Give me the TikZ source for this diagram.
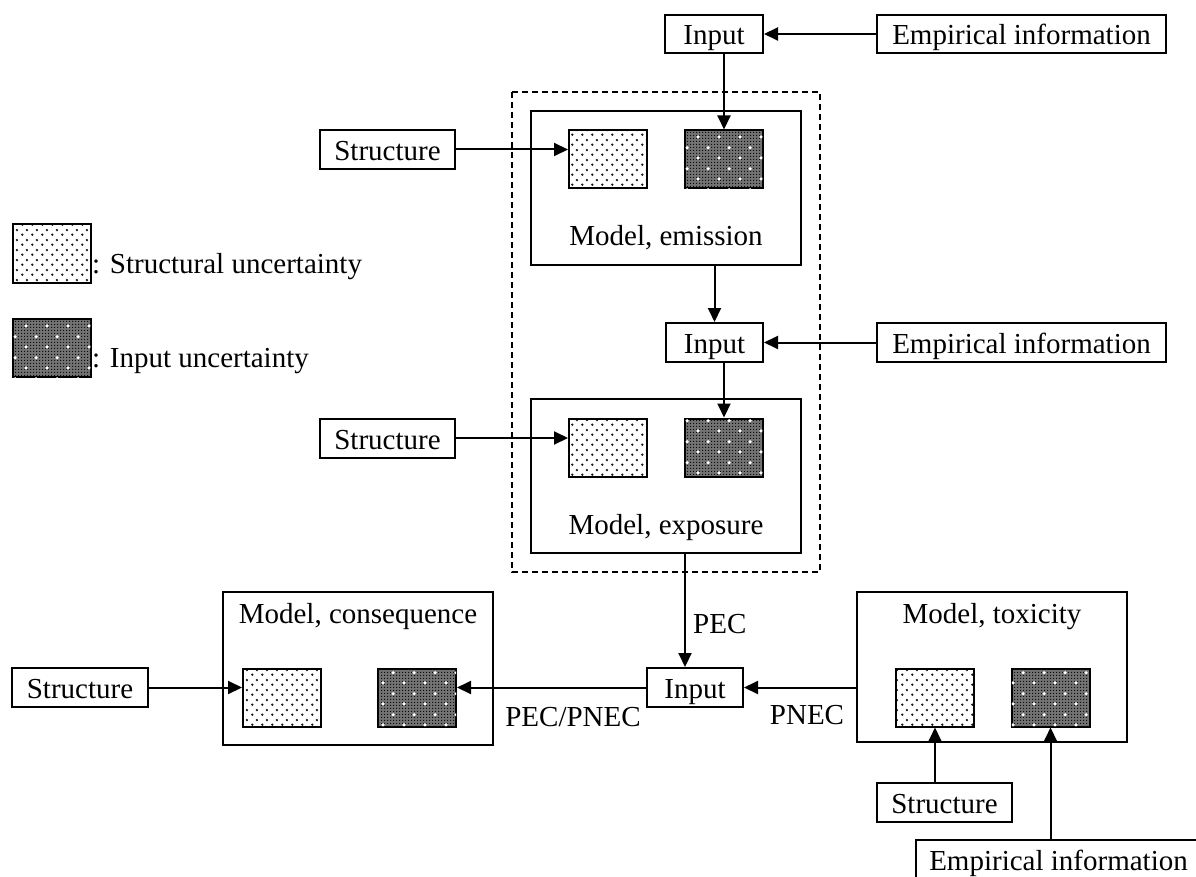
\documentclass[tikz,border=0pt]{standalone}
\usepackage{fontspec}
\setmainfont{Liberation Serif}
\usetikzlibrary{arrows.meta,patterns}
\pgfdeclarepatternformonly{sdots}{\pgfpointorigin}{\pgfpoint{10pt}{10pt}}{\pgfpoint{10pt}{10pt}}{%
  \pgfpathcircle{\pgfpoint{2.5pt}{2.5pt}}{1.4pt}%
  \pgfpathcircle{\pgfpoint{7.5pt}{7.5pt}}{1.4pt}%
  \pgfusepath{fill}}
\pgfdeclarepatternformonly{wdots}{\pgfpointorigin}{\pgfpoint{21pt}{21pt}}{\pgfpoint{21pt}{21pt}}{%
  \pgfpathcircle{\pgfpoint{5.25pt}{5.25pt}}{1.8pt}%
  \pgfpathcircle{\pgfpoint{15.75pt}{15.75pt}}{1.8pt}%
  \pgfusepath{fill}}
\pgfdeclarepatternformonly{fgrid}{\pgfpointorigin}{\pgfpoint{3pt}{3pt}}{\pgfpoint{3pt}{3pt}}{%
  \pgfpathrectangle{\pgfpointorigin}{\pgfpoint{1.5pt}{1.5pt}}%
  \pgfusepath{fill}}
\tikzset{
  txt/.style={font=\fontsize{29}{34}\selectfont},
  box/.style={draw, line width=2pt, inner sep=0pt, txt, text height=24pt, text depth=2pt},
  sunc/.style={draw, line width=2pt, fill=white, pattern=sdots, pattern color=black!90, inner sep=0pt, minimum width=78pt, minimum height=58pt},
  iunc/.style={draw, line width=2pt, fill=black!55, postaction={pattern=fgrid, pattern color=black!95}, postaction={pattern=wdots, pattern color=white}, inner sep=0pt, minimum width=78pt, minimum height=58pt},
  arr/.style={line width=2pt, -{Triangle[length=14pt,width=13pt]}},
  lbl/.style={txt, anchor=base, inner sep=0pt}
}
\begin{document}
\begin{tikzpicture}[x=1pt,y=-1pt]
\useasboundingbox (0,0) rectangle (1196,877);
% dashed frame
\draw[line width=1.8pt, dash pattern=on 6pt off 4pt] (512,92) rectangle (820,572);
% top input
\node[box, minimum width=98pt, minimum height=38pt] (inTop) at (714,34) {Input};
\node[box, minimum width=289pt, minimum height=38pt] (empTop) at (1021.5,34) {Empirical information};
% emission model
\node[box, minimum width=270pt, minimum height=154pt] (emis) at (666,188) {};
\node[lbl] (emisL) at (666,246) {Model, emission};
\node[sunc] (sE1) at (608,159.5) {};
\node[iunc] (iE1) at (724,159.5) {};
\node[box, minimum width=135pt, minimum height=39pt] (strTop) at (387.5,149.5) {Structure};
% middle input
\node[box, minimum width=97pt, minimum height=39pt] (inMid) at (714.5,342.5) {Input};
\node[box, minimum width=289pt, minimum height=39pt] (empMid) at (1021.5,342.5) {Empirical information};
% exposure model
\node[box, minimum width=270pt, minimum height=154pt] (expo) at (666,476) {};
\node[lbl] (expoL) at (666,534) {Model, exposure};
\node[sunc] (sE2) at (608,447.5) {};
\node[iunc] (iE2) at (724,447.5) {};
\node[box, minimum width=135pt, minimum height=39pt] (strMid) at (387.5,438) {Structure};
% bottom input
\node[box, minimum width=96pt, minimum height=39pt] (inBot) at (695,687.5) {Input};
\coordinate (pecx) at (685,0);
% consequence model
\node[box, minimum width=270pt, minimum height=153pt] (cons) at (358,668.5) {};
\node[lbl] (consL) at (358,623) {Model, consequence};
\node[sunc] (sC) at (282,697.5) {};
\node[iunc] (iC) at (417,697.5) {};
\node[box, minimum width=136pt, minimum height=39pt] (strL) at (80,687.5) {Structure};
% toxicity model
\node[box, minimum width=270pt, minimum height=150pt] (tox) at (992,667) {};
\node[lbl] (toxL) at (992,623) {Model, toxicity};
\node[sunc] (sT) at (935,697.5) {};
\node[iunc] (iT) at (1050.5,697.5) {};
\node[box, minimum width=135pt, minimum height=39pt] (strB) at (944.5,802.5) {Structure};
\node[box, minimum width=285pt, minimum height=39pt] (empB) at (1058.5,859.5) {Empirical information};
% labels
\node[lbl, anchor=base west] (pecL) at (693,633) {PEC};
\node[lbl] (pecpnecL) at (573,726) {PEC/PNEC};
\node[lbl] (pnecL) at (807,724) {PNEC};
% legend
\node[sunc] (lg1) at (52,253.5) {};
\node[lbl, anchor=base west] (lg1t) at (lg1.east |- 0,273) {: Structural uncertainty};
\node[iunc] (lg2) at (52,348) {};
\node[lbl, anchor=base west] (lg2t) at (lg2.east |- 0,367) {: Input uncertainty};
% connectors
\draw[arr] (empTop.west) -- (inTop.east);
\draw[arr] (inTop.south -| iE1.north) -- (iE1.north);
\draw[arr] (strTop.east) -- (strTop.east -| sE1.west);
\draw[arr] (emis.south -| inMid.north) -- (inMid.north);
\draw[arr] (empMid.west) -- (inMid.east);
\draw[arr] (inMid.south -| iE2.north) -- (iE2.north);
\draw[arr] (strMid.east) -- (strMid.east -| sE2.west);
\draw[arr] (expo.south -| pecx) -- (inBot.north -| pecx);
\draw[arr] (inBot.west) -- (inBot.west -| iC.east);
\draw[arr] (strL.east) -- (strL.east -| sC.west);
\draw[arr] (tox.west |- inBot.east) -- (inBot.east);
\draw[arr] (strB.north -| sT.south) -- (sT.south);
\draw[arr] (empB.north -| iT.south) -- (iT.south);
\end{tikzpicture}
\end{document}
